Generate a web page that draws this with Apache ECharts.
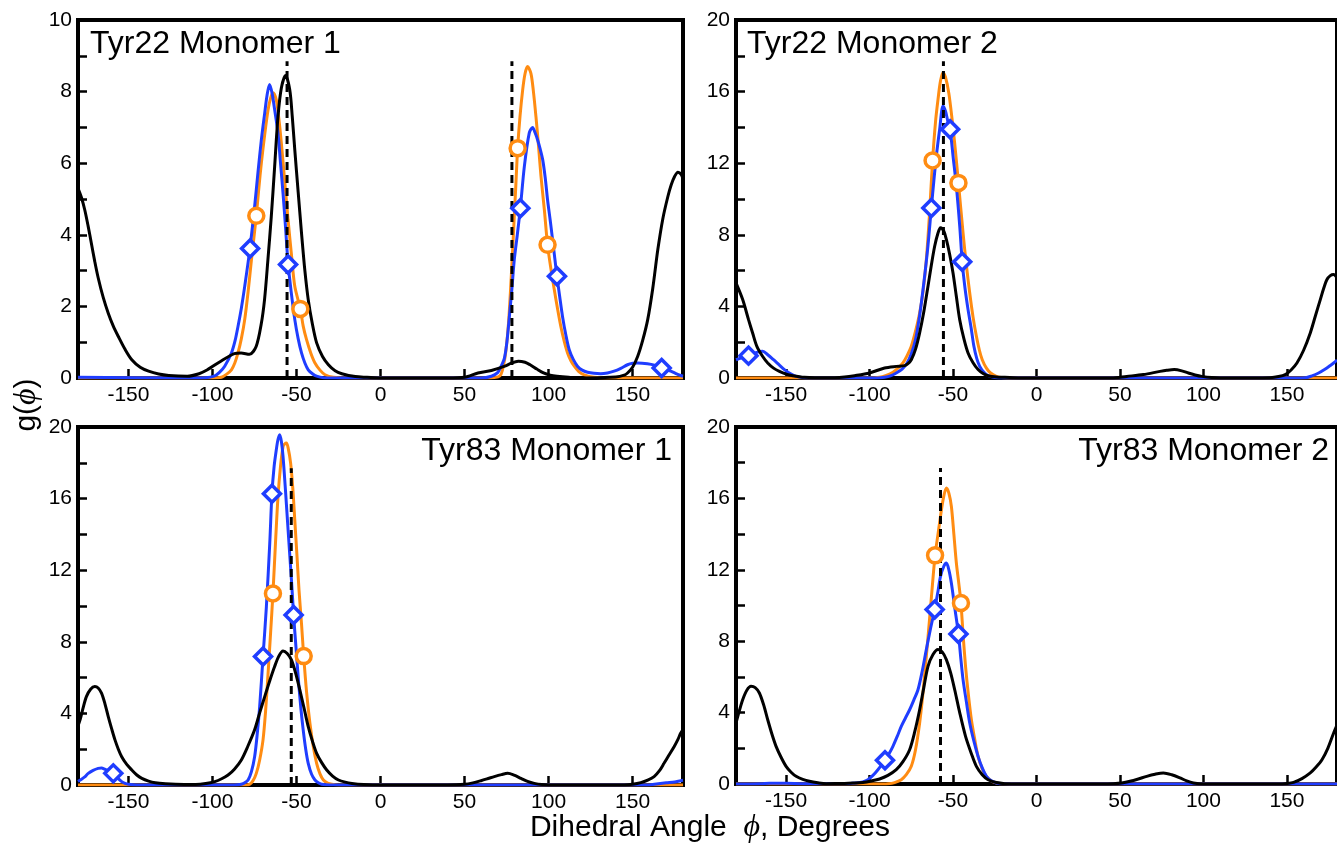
<!DOCTYPE html>
<html>
<head>
<meta charset="utf-8">
<script src="https://cdn.jsdelivr.net/npm/echarts@6/dist/echarts.min.js"></script>
<style>
html, body { margin: 0; padding: 0; background: #fff; }
#chart { width: 1337px; height: 846px; }
</style>
</head>
<body>
<div id="chart"></div>
<script>
// x ticks / labels (degrees)
const xTicks = [-150, -100, -50, 0, 50, 100, 150]
const yTicks10 = [0, 1, 2, 3, 4, 5, 6, 7, 8, 9, 10]
const yLabels10 = [0, 2, 4, 6, 8, 10]
const yTicks20 = [0, 2, 4, 6, 8, 10, 12, 14, 16, 18, 20]
const yLabels20 = [0, 4, 8, 12, 16, 20]

const titles = ["Tyr22 Monomer 1", "Tyr22 Monomer 2", "Tyr83 Monomer 1", "Tyr83 Monomer 2"]

// Tyr22 Monomer 1
const black1 = [[-180,5.3],[-178,5.05],[-176,4.7],[-174,4.25],[-172,3.75],[-170,3.25],[-168,2.8],[-165,2.25],[-162,1.81],[-159,1.45],[-156,1.16],[-152,0.8],[-148,0.51],[-143,0.3],[-138,0.19],[-132,0.11],[-126,0.07],[-115,0.05],[-108,0.12],[-103,0.23],[-95,0.47],[-87,0.68],[-83,0.7],[-78,0.66],[-74,0.88],[-71,1.5],[-69,2.19],[-67,3.3],[-65,4.5],[-63,5.9],[-61,7.3],[-59,8.1],[-56.5,8.45],[-54,8.05],[-52.5,7.3],[-51,6.37],[-49,5.2],[-47,4.05],[-45,3.0],[-43,2.19],[-40.5,1.5],[-38,0.98],[-34.5,0.6],[-31,0.37],[-27,0.2],[-23,0.12],[-15,0.04],[-8,0.02],[0,0],[40,0],[50,0.02],[58,0.14],[66,0.21],[74,0.33],[78,0.42],[82,0.47],[86,0.44],[89,0.37],[93,0.25],[97,0.14],[101,0.08],[105,0.05],[112,0.02],[120,0],[140,0.03],[145,0.08],[147,0.14],[150,0.3],[153,0.6],[156,1.05],[159,1.63],[162,2.5],[165,3.58],[168,4.45],[171,5.07],[173,5.4],[175,5.63],[177,5.75],[179,5.68],[180,5.55]]
const blue1 = [[-180,0.02],[-120,0],[-104,0.01],[-99,0.05],[-96,0.15],[-92.7,0.33],[-88.7,0.7],[-86.5,1.05],[-84.8,1.44],[-82.8,1.95],[-80.8,2.56],[-77.8,3.58],[-74.9,4.79],[-72.9,5.75],[-70.9,6.65],[-68.9,7.4],[-67.5,7.9],[-66,8.2],[-64.5,7.95],[-63,7.5],[-61,6.84],[-59.5,6.0],[-58,5.16],[-56.5,4.2],[-55,3.2],[-53,2.35],[-51,1.63],[-49,1.1],[-47,0.7],[-45,0.42],[-43,0.23],[-40.5,0.12],[-38,0.05],[-34,0.01],[-20,0],[60,0],[66,0.05],[69.7,0.15],[71.5,0.3],[73.7,0.55],[75.2,1.0],[76.7,1.72],[78.2,2.5],[79.6,3.3],[81.4,4.0],[83.2,4.74],[85.6,5.91],[88.5,6.84],[90.5,7.0],[92,6.85],[93.5,6.65],[95,6.4],[96.5,6.1],[98,5.6],[99.4,4.98],[101,4.4],[102.4,3.86],[103.7,3.35],[105,2.84],[106.7,2.25],[108.3,1.72],[110.3,1.2],[112.3,0.79],[114.7,0.52],[117.2,0.33],[120,0.22],[123.2,0.16],[127,0.13],[131,0.12],[135,0.14],[139,0.19],[143,0.27],[147,0.37],[150,0.41],[153,0.42],[158.8,0.4],[163,0.36],[167.3,0.28],[170,0.23],[172.7,0.19],[175.5,0.13],[178.6,0.07],[180,0.05]]
const orange1 = [[-180,0],[-100,0],[-94.7,0.02],[-91.7,0.1],[-88.7,0.23],[-86.7,0.42],[-84.8,0.7],[-82.8,1.1],[-80.8,1.63],[-78.8,2.4],[-76.8,3.3],[-73.9,4.53],[-72.4,5.3],[-70.9,6.0],[-68.9,6.8],[-66.9,7.49],[-65.4,7.82],[-64,7.97],[-62,7.77],[-60.5,7.25],[-59,6.56],[-57,5.5],[-55,4.42],[-53,3.45],[-51,2.56],[-47.7,1.93],[-46,1.45],[-44,1.07],[-41.5,0.7],[-39,0.42],[-36,0.22],[-33,0.09],[-28,0.02],[-20,0],[65,0],[70,0.03],[71.7,0.1],[73.2,0.35],[74.7,0.79],[76.2,1.55],[77.6,2.65],[78.6,3.55],[79.6,4.51],[80.6,5.45],[81.6,6.42],[83,7.3],[84.6,8.05],[86,8.5],[87.5,8.7],[89.5,8.51],[91,8.0],[92.5,7.3],[94,6.5],[95.5,5.63],[97.5,4.7],[99.4,3.72],[101.4,3.05],[103.4,2.47],[105.4,1.92],[107.3,1.44],[109.3,1.03],[111.3,0.7],[113.3,0.48],[115.3,0.33],[118,0.18],[121.2,0.09],[127,0.02],[135,0],[180,0]]
const diamonds1 = [[-77.6,3.62],[-55,3.17],[83.2,4.74],[105,2.84],[167.3,0.28]]
const circles1 = [[-73.9,4.53],[-47.7,1.93],[81.6,6.42],[99.4,3.72]]
const dash1 = [-55.6, 78.2]

// Tyr22 Monomer 2
const black2 = [[-180,5.31],[-176,4.38],[-172.5,3.26],[-170,2.5],[-167.5,1.77],[-164,1.2],[-161,0.84],[-157.5,0.55],[-154,0.37],[-150,0.22],[-146,0.13],[-139,0.04],[-125,0.01],[-115,0.06],[-109,0.13],[-100,0.28],[-91,0.56],[-84,0.65],[-79,0.69],[-77,0.8],[-75,1.02],[-72.5,1.6],[-70,2.52],[-67.5,3.7],[-65,5.13],[-63,6.3],[-61,7.36],[-59,8.1],[-57.5,8.39],[-55.5,8.2],[-54,7.74],[-52,6.9],[-50,5.87],[-48,4.55],[-46,3.26],[-43.5,2.2],[-41,1.4],[-38,0.85],[-35,0.47],[-32,0.25],[-29,0.13],[-24,0.06],[-19,0.04],[-10,0],[45,0],[54,0.09],[64,0.19],[74,0.37],[78,0.43],[82.5,0.47],[87,0.4],[91,0.28],[95,0.17],[99,0.09],[105,0.03],[115,0],[140,0.02],[145,0.08],[149,0.19],[152.5,0.45],[156,0.84],[160,1.55],[164,2.52],[167,3.45],[170,4.38],[172,5.0],[174,5.5],[176,5.72],[178,5.78],[180,5.6]]
const blue2 = [[-180,1.02],[-176,1.15],[-172.5,1.25],[-168,1.42],[-164,1.49],[-161,1.3],[-157.5,1.02],[-154,0.72],[-151,0.47],[-147.5,0.25],[-144,0.09],[-140,0.02],[-130,0],[-95,0],[-91,0.04],[-87.5,0.12],[-84,0.28],[-80.5,0.5],[-77.5,0.84],[-75,1.35],[-72.5,2.14],[-70,3.5],[-67.5,5.31],[-65,7.4],[-63,9.5],[-61.5,11.0],[-60,12.4],[-58,13.9],[-56,15.2],[-54.5,14.9],[-53,14.3],[-51.75,13.9],[-50,12.4],[-48,10.7],[-46,8.5],[-44.5,6.49],[-42.8,5.0],[-41,3.82],[-39,2.7],[-37.5,1.77],[-35.8,1.1],[-34,0.65],[-31.5,0.32],[-29,0.13],[-25,0.03],[-20,0],[155,0],[161,0.01],[165,0.12],[169,0.28],[173,0.5],[176,0.7],[178,0.84],[180,1.0]]
const orange2 = [[-180,0],[-100,0],[-94,0.04],[-90,0.15],[-86,0.32],[-83,0.55],[-80,0.84],[-77.5,1.25],[-75,1.77],[-72.5,2.6],[-70,3.63],[-68,4.8],[-66,6.6],[-64,9.3],[-62.25,12.15],[-60.5,14.3],[-59,15.56],[-57.5,16.6],[-56,17.05],[-54.5,16.8],[-52.5,15.9],[-50.5,14.4],[-49,13.1],[-46.75,10.9],[-44,8.1],[-42,6.3],[-40,4.75],[-38,3.4],[-36,2.33],[-34.2,1.55],[-32.5,1.02],[-30,0.55],[-27.5,0.28],[-24,0.09],[-20,0.02],[-15,0],[180,0]]
const diamonds2 = [[-172.5,1.25],[-63,9.5],[-51.75,13.9],[-44.5,6.49]]
const circles2 = [[-62.25,12.15],[-46.75,10.9]]
const dash2 = [-55.75]

// Tyr83 Monomer 1
const black3 = [[-180,3.3],[-178.6,3.7],[-177,4.3],[-175,4.94],[-172.5,5.35],[-170,5.5],[-168,5.42],[-166,5.13],[-164,4.55],[-162,3.82],[-160,3.15],[-158,2.52],[-156,2.0],[-154,1.58],[-151,1.15],[-148,0.84],[-145,0.56],[-142,0.37],[-138,0.22],[-134,0.13],[-128,0.07],[-122,0.04],[-110,0.03],[-104,0.08],[-98.6,0.19],[-94.5,0.35],[-90.7,0.56],[-86.8,0.9],[-82.8,1.4],[-79,2.15],[-74.9,3.08],[-72,4.0],[-68.9,4.94],[-66,5.8],[-63,6.62],[-60.5,7.2],[-58,7.49],[-55.5,7.35],[-53,6.99],[-50.5,6.25],[-48,5.31],[-45.5,4.3],[-43,3.26],[-40.5,2.45],[-38,1.77],[-35,1.25],[-32,0.84],[-28.5,0.5],[-25,0.28],[-21,0.16],[-17,0.09],[-10,0.03],[0,0],[40,0],[50,0.04],[55,0.12],[59.8,0.24],[64,0.36],[67.7,0.47],[72,0.58],[75.7,0.65],[79.5,0.55],[83.6,0.37],[87.5,0.2],[91.5,0.09],[96,0.03],[105,0],[145,0],[150,0.04],[154.9,0.13],[159,0.27],[162.8,0.47],[166,0.8],[168.7,1.21],[171.5,1.65],[174.7,2.14],[177,2.55],[178.6,2.89],[180,3.1]]
const blue3 = [[-180,0.2],[-178.6,0.28],[-176,0.45],[-173.9,0.65],[-171,0.82],[-168,0.93],[-166,0.95],[-164,0.88],[-161.5,0.78],[-159,0.65],[-156.5,0.4],[-154,0.19],[-152,0.09],[-150,0.04],[-145,0],[-90,0],[-85,0.01],[-82.8,0.04],[-80.8,0.12],[-78.8,0.28],[-76.8,0.75],[-74.9,1.58],[-73.4,2.8],[-71.9,4.38],[-69.9,7.18],[-67.9,9.97],[-65.9,13.5],[-64.6,16.27],[-63.3,17.8],[-62,18.73],[-61,19.3],[-60,19.57],[-59,19.2],[-58,18.36],[-56.5,16.4],[-55,14.26],[-53,11.46],[-51.7,9.5],[-50.3,7.7],[-49,6.06],[-47.5,4.4],[-46,3.08],[-44.5,2.0],[-43,1.21],[-41,0.6],[-39,0.28],[-37,0.12],[-35,0.04],[-30,0],[160,0],[163,0.04],[170,0.12],[175,0.17],[178.6,0.24],[180,0.26]]
const orange3 = [[-180,0],[-80,0],[-77.8,0.04],[-75.8,0.25],[-73.9,0.65],[-71.9,1.4],[-69.9,2.52],[-68.4,4.1],[-66.9,6.24],[-65.4,8.5],[-64,10.7],[-62.5,13.5],[-61,16.1],[-59.5,17.8],[-58,18.9],[-57,19.05],[-56,19.1],[-55,18.85],[-53.5,18.0],[-52.2,16.6],[-51,14.8],[-49.7,12.8],[-48.5,10.9],[-47,9.0],[-45.7,7.2],[-44,5.2],[-42,3.45],[-40,2.15],[-38,1.21],[-36,0.62],[-34,0.28],[-31.5,0.11],[-29,0.04],[-25,0],[180,0]]
const diamonds3 = [[-159,0.65],[-69.9,7.18],[-64.6,16.27],[-51.7,9.5]]
const circles3 = [[-64,10.7],[-45.7,7.2]]
const dash3 = [-53.1]

// Tyr83 Monomer 2
const black4 = [[-180,3.42],[-178,4.1],[-176,4.72],[-173.5,5.25],[-171,5.47],[-168.5,5.4],[-166,5.1],[-163.5,4.45],[-161,3.6],[-158.5,2.8],[-156,2.11],[-153,1.5],[-150,0.99],[-147,0.66],[-144,0.43],[-140,0.26],[-136,0.15],[-131,0.07],[-126,0.02],[-115,0.03],[-110,0.05],[-104,0.09],[-99,0.17],[-94,0.28],[-89,0.48],[-84,0.8],[-80,1.25],[-76,1.92],[-73,2.9],[-70,4.16],[-67.5,5.4],[-65,6.59],[-62,7.25],[-59,7.53],[-56.5,7.4],[-54,6.97],[-51.5,6.25],[-49,5.28],[-46,4.0],[-42.5,2.67],[-39,1.7],[-36,0.99],[-32.5,0.52],[-29,0.24],[-24,0.08],[-19,0.02],[-10,0],[40,0],[46,0.02],[51,0.06],[56,0.15],[61,0.28],[66,0.43],[71,0.55],[76,0.62],[81,0.52],[86,0.34],[90,0.17],[94,0.06],[100,0],[145,0],[150,0.03],[154,0.09],[159,0.3],[164,0.62],[167.5,0.95],[171,1.36],[174.5,2.0],[178,2.86],[180,3.3]]
const blue4 = [[-180,0],[-165,0.01],[-160,0.04],[-150,0.04],[-140,0.01],[-115,0.01],[-108,0.06],[-104,0.12],[-101,0.24],[-98,0.48],[-95,0.8],[-90.75,1.33],[-88,1.75],[-86,2.11],[-83.5,2.65],[-81,3.23],[-78.5,3.7],[-76,4.16],[-73.5,4.7],[-71,5.28],[-68.5,6.3],[-66,7.53],[-63.5,8.7],[-61,9.77],[-59,10.8],[-57.5,11.63],[-55.5,12.2],[-54,12.38],[-52.5,12.0],[-51,11.26],[-49,9.9],[-46.75,8.4],[-45.3,7.0],[-44,5.85],[-42,4.6],[-40,3.42],[-37.5,2.4],[-35,1.55],[-32.5,0.9],[-30,0.43],[-27,0.18],[-24,0.06],[-20,0.01],[-10,0],[180,0]]
const orange4 = [[-180,0],[-92,0],[-89,0.01],[-85,0.08],[-81,0.24],[-78,0.52],[-75,0.99],[-72.5,1.9],[-70,3.42],[-68,5.1],[-66,7.15],[-64,9.3],[-62.3,11.2],[-60.75,12.81],[-59,14.0],[-57.5,15.0],[-55.8,16.0],[-54,16.58],[-52.5,16.3],[-51,15.56],[-49.5,14.0],[-48,12.38],[-46.5,11.2],[-45.25,10.14],[-44,8.4],[-42.5,6.59],[-40.8,5.0],[-39,3.6],[-37,2.5],[-35,1.55],[-32.5,0.85],[-30,0.43],[-27,0.17],[-24,0.06],[-20,0.01],[-10,0],[180,0]]
const diamonds4 = [[-90.75,1.33],[-61,9.77],[-46.75,8.4]]
const circles4 = [[-60.75,12.81],[-45.25,10.14]]
const dash4 = [-57.5]

const BLUE = "#1f3dff"
const ORANGE = "#ff8c12"
const FONT = "Liberation Sans"

const panels = [
	{ black: black1, blue: blue1, orange: orange1, dia: diamonds1, cir: circles1, dash: dash1, ymax: 10 },
	{ black: black2, blue: blue2, orange: orange2, dia: diamonds2, cir: circles2, dash: dash2, ymax: 20 },
	{ black: black3, blue: blue3, orange: orange3, dia: diamonds3, cir: circles3, dash: dash3, ymax: 20 },
	{ black: black4, blue: blue4, orange: orange4, dia: diamonds4, cir: circles4, dash: dash4, ymax: 20 }
]

const grid = [
	{ left: 78, top: 20, width: 605, height: 358 },
	{ left: 736, top: 20, width: 605, height: 358 },
	{ left: 78, top: 427, width: 605, height: 358 },
	{ left: 736, top: 427, width: 605, height: 357 }
].map(g => Object.assign(g, { show: true, borderColor: "#000", borderWidth: 4, containLabel: false }))

const xAxis = panels.map((p, i) => ({
	type: "value",
	gridIndex: i,
	min: -180,
	max: 180,
	axisLine: { show: false, onZero: false },
	splitLine: { show: false },
	axisTick: { inside: true, length: 9, customValues: xTicks, lineStyle: { color: "#000", width: 2.5 } },
	axisLabel: { customValues: xTicks, margin: 7, color: "#000", fontSize: 21, fontFamily: FONT }
}))

const yAxis = panels.map((p, i) => ({
	type: "value",
	gridIndex: i,
	position: "left",
	min: 0,
	max: p.ymax,
	axisLine: { show: false, onZero: false },
	splitLine: { show: false },
	axisTick: { inside: true, length: 9, customValues: p.ymax === 10 ? yTicks10 : yTicks20, lineStyle: { color: "#000", width: 2.5 } },
	axisLabel: { customValues: p.ymax === 10 ? yLabels10 : yLabels20, margin: 6, color: "#000", fontSize: 21, fontFamily: FONT }
}))

let series = []
panels.forEach((p, i) => {
	const base = { xAxisIndex: i, yAxisIndex: i, silent: true }
	const curve = (data, color) => Object.assign({
		type: "line", data: data, showSymbol: false, smooth: 0.3,
		lineStyle: { color: color, width: 3 }
	}, base)
	series.push(curve(p.orange, ORANGE))
	series.push(curve(p.blue, BLUE))
	series.push(curve(p.black, "#000"))
	// vertical dashed reference lines
	for (let x of p.dash) {
		series.push(Object.assign({
			type: "line", data: [[x, 0], [x, p.ymax * 0.885]], showSymbol: false,
			lineStyle: { color: "#000", width: 3, type: [8, 5] }
		}, base))
	}
	series.push(Object.assign({
		type: "scatter", data: p.cir, symbol: "circle", symbolSize: 15,
		itemStyle: { color: "#fff", borderColor: ORANGE, borderWidth: 3.5, opacity: 1 }, z: 5
	}, base))
	series.push(Object.assign({
		type: "scatter", data: p.dia, symbol: "diamond", symbolSize: 17,
		itemStyle: { color: "#fff", borderColor: BLUE, borderWidth: 3.5, opacity: 1 }, z: 5
	}, base))
})

const titleStyle = { fill: "#000", font: "32px " + FONT, verticalAlign: "middle" }
const graphic = [
	{ type: "text", x: 90, y: 44, style: Object.assign({ text: titles[0], align: "left" }, titleStyle) },
	{ type: "text", x: 747, y: 44, style: Object.assign({ text: titles[1], align: "left" }, titleStyle) },
	{ type: "text", x: 672, y: 451, style: Object.assign({ text: titles[2], align: "right" }, titleStyle) },
	{ type: "text", x: 1329, y: 451, style: Object.assign({ text: titles[3], align: "right" }, titleStyle) },
	{
		type: "text", x: 710, y: 828,
		style: {
			text: "{a|Dihedral Angle  }{b|ϕ}{a|, Degrees}", align: "center", verticalAlign: "middle",
			rich: {
				a: { fontSize: 30, fontFamily: FONT, fill: "#000" },
				b: { fontSize: 32, fontFamily: "Liberation Serif", fontStyle: "italic", fill: "#000" }
			}
		}
	},
	{
		type: "text", x: 27, y: 405, rotation: Math.PI / 2,
		style: {
			text: "{a|g(}{b|ϕ}{a|)}", align: "center", verticalAlign: "middle",
			rich: {
				a: { fontSize: 30, fontFamily: FONT, fill: "#000" },
				b: { fontSize: 32, fontFamily: "Liberation Serif", fontStyle: "italic", fill: "#000" }
			}
		}
	}
]

const chart = echarts.init(document.getElementById("chart"))
chart.setOption({
	animation: false,
	backgroundColor: "#fff",
	grid,
	xAxis,
	yAxis,
	series,
	graphic
})
window.addEventListener("resize", () => chart.resize())
</script>
</body>
</html>
